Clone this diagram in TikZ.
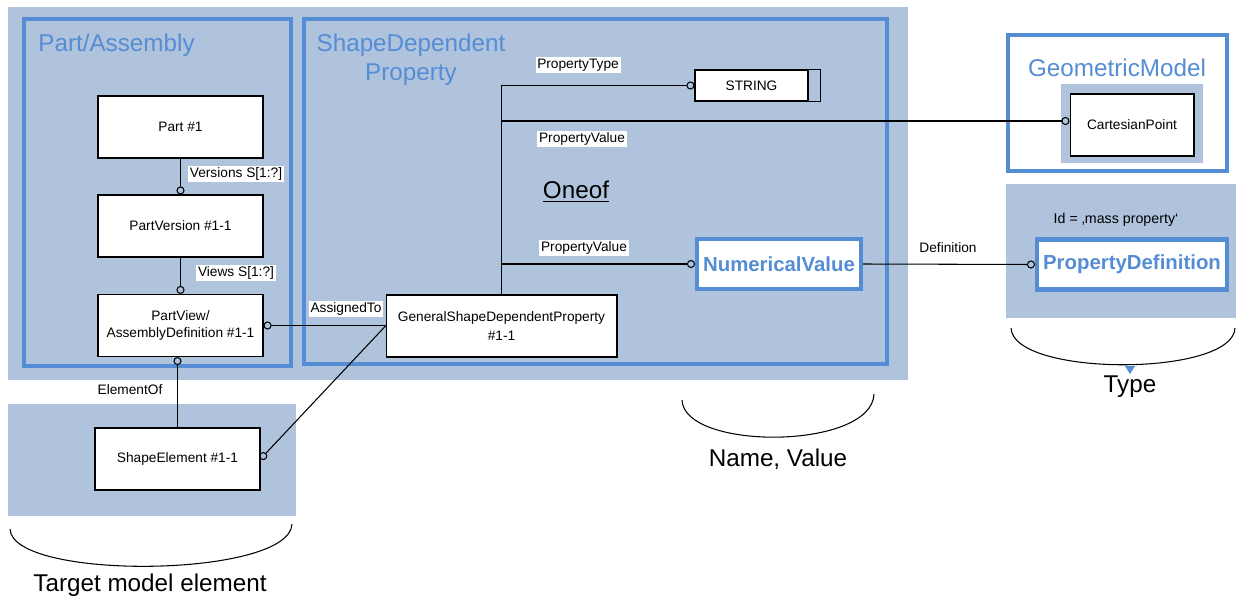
\documentclass[tikz,border=0pt]{standalone}
\usepackage{fontspec}
\setmainfont{Liberation Sans}
\usepackage{tikz}
\usetikzlibrary{arrows.meta, positioning, calc}
\definecolor{stepbg}{RGB}{176,195,220}
\definecolor{stepblue}{RGB}{85,141,213}

\begin{document}
\begin{tikzpicture}[x=0.02cm, y=-0.02cm,
    ent/.style={draw=black, fill=white, line width=0.6pt, minimum width=3.3cm, minimum height=1.24cm, align=center, inner sep=1pt, font=\fontsize{7.8}{9.6}\selectfont},
    keyent/.style={draw=stepblue, fill=white, line width=2.3pt, minimum height=1.0cm, inner sep=1pt, text=stepblue, font=\fontsize{11.6}{14}\selectfont\bfseries},
    zoneframe/.style={draw=stepblue, line width=2.3pt},
    zonetitle/.style={text=stepblue, font=\fontsize{13.8}{16.5}\selectfont, inner sep=0pt},
    linklabel/.style={fill=white, inner sep=1pt, font=\fontsize{7.8}{9.4}\selectfont},
    caption/.style={font=\fontsize{13.8}{16.5}\selectfont, inner sep=0pt},
    conn/.style={line width=0.6pt, -{Circle[open, length=4.6pt, width=4.6pt]}},
    connr/.style={line width=0.6pt, {Circle[open, length=4.6pt, width=4.6pt]}-}]
    \useasboundingbox (0,0) rectangle (1236,598);

    % Background zones
    \fill[stepbg] (8,7) rectangle (908,380);
    \fill[stepbg] (8,404) rectangle (296,516);
    \fill[stepbg] (1006,184) rectangle (1236,318);
    \draw[zoneframe] (24,19) rectangle (291,366);
    \draw[zoneframe] (304,19) rectangle (887,364);
    \draw[zoneframe, fill=white] (1008,35) rectangle (1227,171);
    \fill[stepbg] (1061,84) rectangle (1203,163);

    % Zone titles
    \node[zonetitle, anchor=base west] (tpa) at (38,52) {Part/Assembly};
    \node[zonetitle, align=center, anchor=north] (tsdp) at (411,34) {ShapeDependent\\Property};
    \node[zonetitle, anchor=base] (tgm) at (1117,76) {GeometricModel};

    % Entities
    \node[ent] (part) at (180.5,127) {Part \#1};
    \node[ent] (pver) at (180.5,226) {PartVersion \#1-1};
    \node[ent] (pview) at (180.5,325.5) {PartView/\\AssemblyDefinition \#1-1};
    \node[ent, minimum width=4.62cm, font=\fontsize{7.8}{10.6}\selectfont] (gsdp) at (501.5,326) {GeneralShapeDependentProperty\\\#1-1};
    \node[ent] (selem) at (177.5,459) {ShapeElement \#1-1};
    \node[ent, minimum width=2.26cm, minimum height=0.62cm] (string) at (751.5,85.5) {STRING};
    \draw[line width=0.6pt] (string.north east) rectangle ($(string.south east)+(12,0)$);
    \node[ent, minimum width=2.48cm] (cart) at (1132,125) {CartesianPoint};
    \node[keyent, minimum width=3.28cm] (numval) at (779,264) {NumericalValue};
    \node[keyent, minimum width=3.8cm] (propdef) at (1132,264.5) {PropertyDefinition};

    % Connectors
    \draw[conn] (part) -- (pver);
    \draw[conn] (pver) -- (pview);
    \draw[connr] (pview.east) -- (pview.east -| gsdp.west);
    \draw[connr] (pview.south -| selem.north) -- (selem.north);
    \draw[conn] (gsdp.west) -- (selem.east);
    \draw[conn] (gsdp.north) |- (string.west);
    \draw[conn] (gsdp.north) |- ($(cart.west)+(0,-4)$);
    \draw[conn] (gsdp.north) |- (numval.west);
    \draw[conn] (numval.east) -- (propdef.west);

    % Connector labels
    \node[linklabel] (lver) at (236,174) {Versions S[1:?]};
    \node[linklabel] (lview) at (236,273) {Views S[1:?]};
    \node[linklabel] (lassign) at (346,309) {AssignedTo};
    \node[linklabel] (ltype) at (578,65) {PropertyType};
    \node[linklabel] (lvala) at (582,139) {PropertyValue};
    \node[linklabel] (lvalb) at (584,248) {PropertyValue};
    \node[linklabel, fill=none] (lelem) at (130,390) {ElementOf};
    \node[linklabel, fill=none] (ldef) at (948,248) {Definition};
    \node[caption] (oneof) at (576,192) {\underline{Oneof}};
    \node[linklabel, fill=none, font=\fontsize{8.1}{10}\selectfont] (lid) at (1116,220) {Id = ‚mass property‘};

    % Braces below the zones
    \draw[line width=0.6pt] (10,529) .. controls (12,581) and (290,578) .. (292,524);
    \node[caption] (ltarget) at (150,585) {Target model element};
    \draw[line width=0.6pt] (682,400) .. controls (684,451) and (872,450) .. (874,394);
    \node[caption] (lname) at (778,459) {Name, Value};
    \draw[line width=0.6pt] (1011,328) .. controls (1013,377) and (1233,377) .. (1235,328);
    \fill[stepblue] (1125,366) -- (1135,366) -- (1130,374) -- cycle;
    \node[caption] (lkind) at (1130,387) {Type};
\end{tikzpicture}
\end{document}
